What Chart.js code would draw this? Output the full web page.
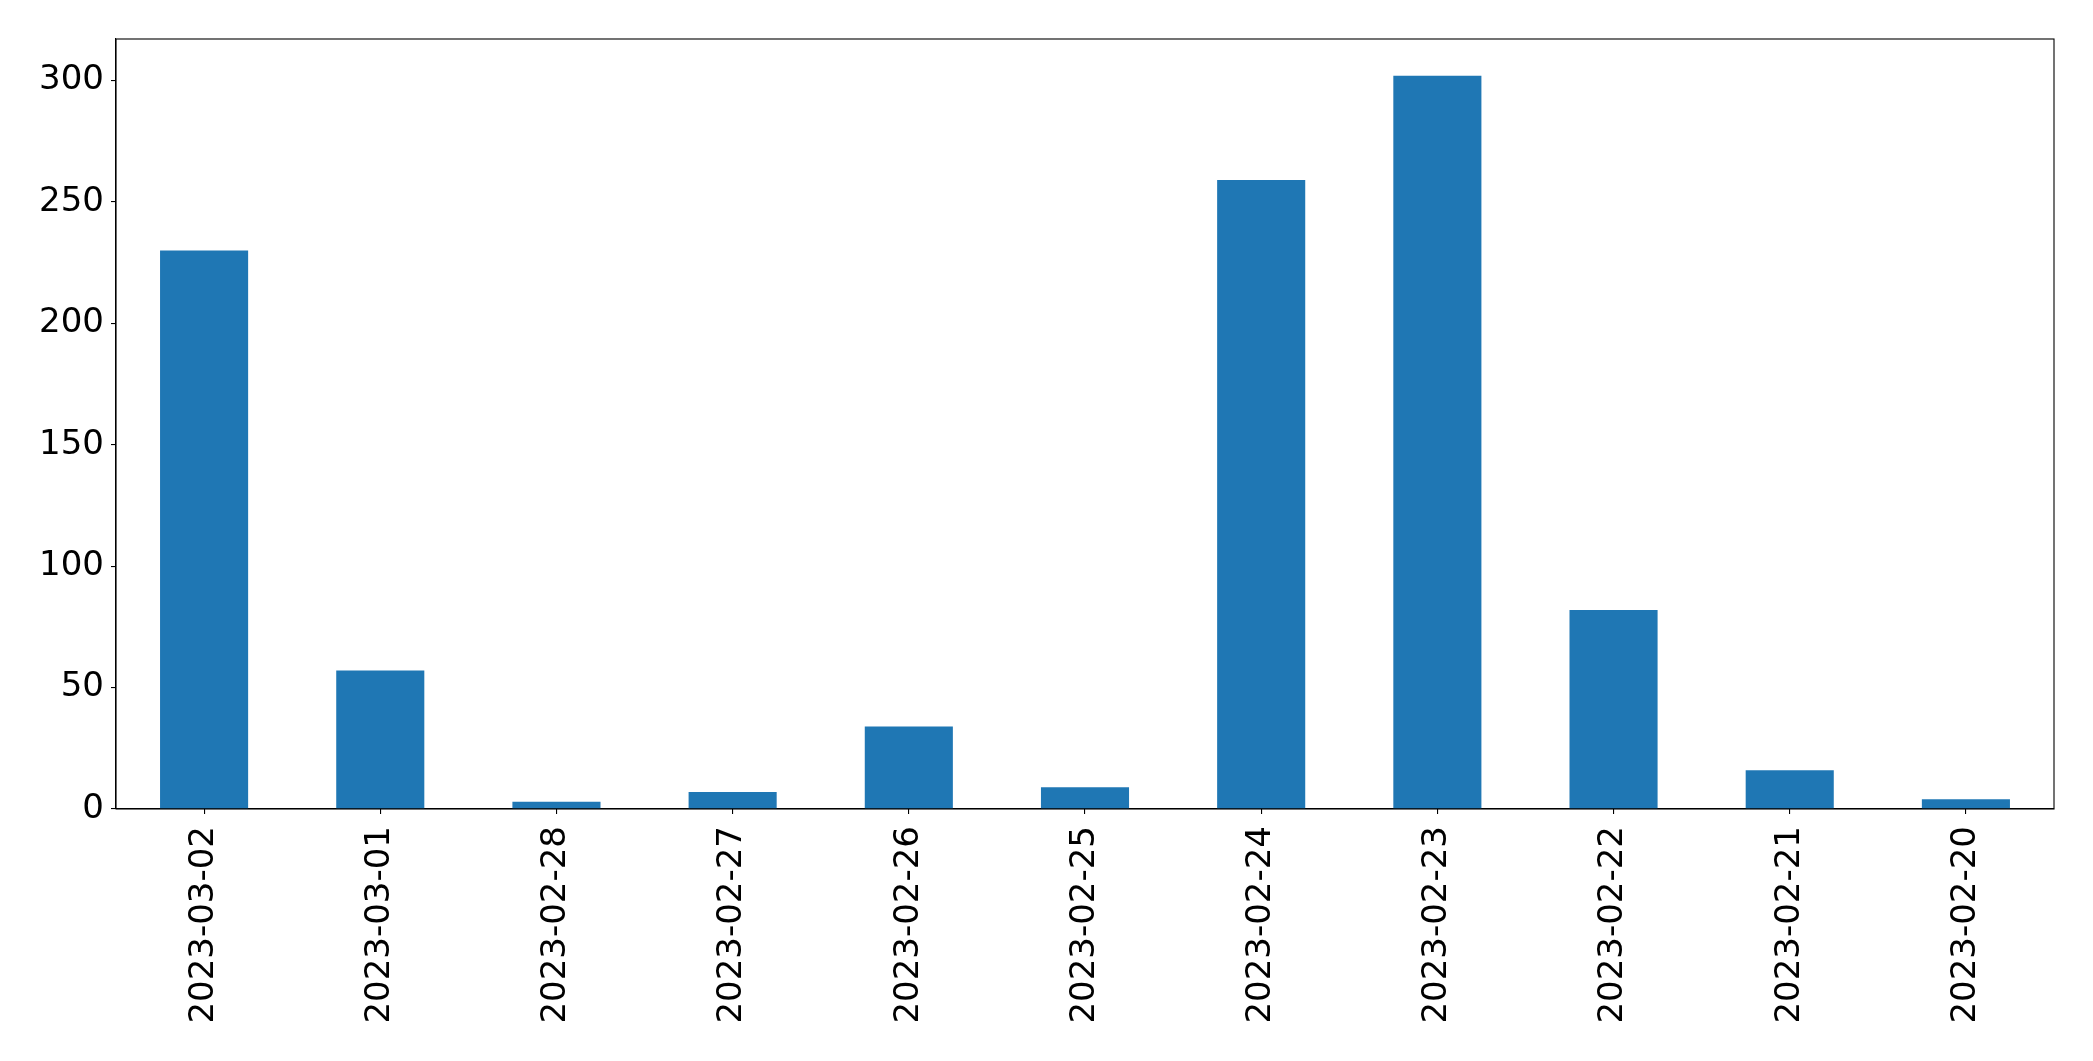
<!DOCTYPE html>
<html>
<head>
<meta charset="utf-8">
<script src="https://cdn.jsdelivr.net/npm/chart.js@4/dist/chart.umd.min.js"></script>
<style>
  html, body { margin: 0; padding: 0; background: #fff; }
  #wrap { width: 2093px; height: 1061px; position: relative; }
</style>
</head>
<body>
<div id="wrap"><canvas id="chart"></canvas></div>
<script>
// fechas (en el orden del original) y conteos
const dates = ['2023-03-02', '2023-03-01', '2023-02-28', '2023-02-27', '2023-02-26', '2023-02-25',
               '2023-02-24', '2023-02-23', '2023-02-22', '2023-02-21', '2023-02-20'];
const counts = [230, 57, 3, 7, 34, 9, 259, 302, 82, 16, 4];
const yTicks = [0, 50, 100, 150, 200, 250, 300];

const FONT = { family: 'DejaVu Sans', size: 34 };

// marco completo alrededor del área del gráfico (como matplotlib)
const frame = {
  id: 'frame',
  afterDraw(chart) {
    const { ctx, chartArea: a } = chart;
    ctx.save();
    ctx.strokeStyle = '#000';
    ctx.lineWidth = 1.1;
    ctx.strokeRect(a.left, a.top, a.right - a.left, a.bottom - a.top);
    ctx.restore();
  }
};

new Chart(document.getElementById('chart'), {
  type: 'bar',
  data: {
    labels: dates,
    datasets: [{
      data: counts,
      backgroundColor: '#1f77b4',
      borderWidth: 0,
      categoryPercentage: 1.0,
      barPercentage: 0.5
    }]
  },
  options: {
    responsive: true, maintainAspectRatio: false, animation: false,
    layout: { padding: { top: 39, right: 39, left: 0, bottom: 0 } },
    plugins: { legend: { display: false }, tooltip: { enabled: false } },
    scales: {
      x: {
        offset: true,
        grid: { display: true, offset: false, drawOnChartArea: false, drawTicks: true, tickLength: 5, color: '#000', lineWidth: 1.1 },
        border: { display: true, color: '#000', width: 1.1 },
        ticks: { color: '#000', font: FONT, minRotation: 90, maxRotation: 90, autoSkip: false, padding: 12 },
        afterFit: s => { s.height = 252; }
      },
      y: {
        min: 0,
        max: Math.max(...counts) * 1.05,
        grid: { display: true, drawOnChartArea: false, drawTicks: true, tickLength: 5, color: '#000', lineWidth: 1.1 },
        border: { display: true, color: '#000', width: 1.1 },
        ticks: { color: '#000', font: FONT, padding: 7, includeBounds: false, stepSize: 50,
                 callback: v => yTicks.includes(v) ? v : null },
        afterFit: s => { s.width = 116; }
      }
    }
  },
  plugins: [frame]
});
</script>
</body>
</html>
